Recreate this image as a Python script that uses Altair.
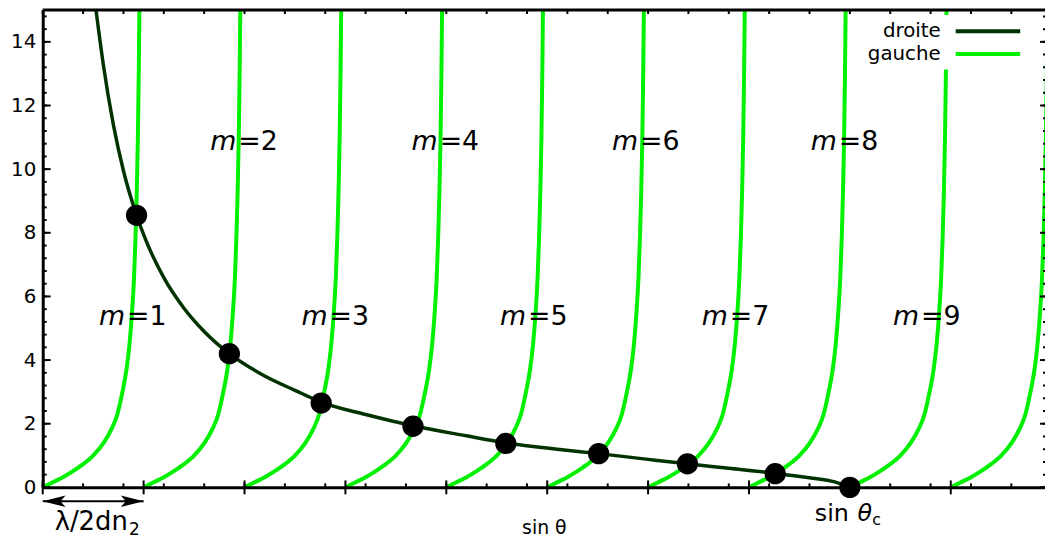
import altair as alt
import pandas as pd

W, H = 1010, 481
XMAX = 9.934
YMAX = 15

GREEN = "#00f000"
DARK = "#003300"
FONT = "DejaVu Sans"

# ---- data (x in units of lambda/2dn2) ----
# shape of one "gauche" branch: offset from the branch start, value
gauche_dx = [0, 0.1, 0.2, 0.3, 0.4, 0.5, 0.6, 0.68, 0.74, 0.79, 0.83, 0.86,
             0.885, 0.905, 0.92, 0.932, 0.943, 0.952, 0.958]
gauche_y = [0, 0.16, 0.32, 0.51, 0.73, 1.0, 1.38, 1.82, 2.3, 3.0, 3.7, 4.5,
            5.5, 6.6, 7.9, 9.3, 11.0, 13.1, 15.0]
gauche_start = [0, 1, 2, 3, 4, 5, 6, 7, 8, 9]

droite_x = [0.528, 0.6, 0.7, 0.8, 0.93, 1.0, 1.2, 1.4, 1.6, 1.85, 2.2, 2.5,
            2.76, 3.2, 3.68, 4.2, 4.59, 5.1, 5.51, 6.0, 6.39, 6.8, 7.26,
            7.6, 7.85, 8.0]
droite_y = [15.0, 13.3, 11.4, 9.95, 8.55, 7.94, 6.59, 5.63, 4.90, 4.2, 3.5,
            3.05, 2.68, 2.29, 1.93, 1.62, 1.40, 1.20, 1.06, 0.88, 0.74, 0.60,
            0.44, 0.30, 0.17, 0.0]

dot_x = [0.93, 1.85, 2.76, 3.67, 4.59, 5.51, 6.39, 7.26, 8.0]
dot_y = [8.55, 4.2, 2.65, 1.92, 1.38, 1.06, 0.74, 0.43, 0.0]

m_num = ["1", "2", "3", "4", "5", "6", "7", "8", "9"]
m_x = [0.826, 1.928, 2.833, 3.924, 4.80, 5.91, 6.80, 7.88, 8.695]
m_y = [5.35, 10.86, 5.35, 10.86, 5.35, 10.86, 5.35, 10.86, 5.35]

y_major = [0, 2, 4, 6, 8, 10, 12, 14]
y_minor = [round(0.4 * i, 1) for i in range(38)]
x_major = [0, 1, 2, 3, 4, 5, 6, 7, 8, 9]
x_minor = [round(0.4 * i, 1) for i in range(25)]

arrow_from = [0]
arrow_to = [1]

# ---- tables ----
gauche_df = pd.DataFrame(
    [{"branch": s, "x": s + dx, "y": v} for s in gauche_start
     for dx, v in zip(gauche_dx, gauche_y)]
)
droite_df = pd.DataFrame({"x": droite_x, "y": droite_y})
dots_df = pd.DataFrame({"x": dot_x, "y": dot_y})
m_df = pd.DataFrame({"x": m_x, "y": m_y, "eq": ["=" + n for n in m_num]})
one = pd.DataFrame({"a": [0]})

xs = alt.Scale(domain=[0, XMAX], nice=False, zero=False)
ys = alt.Scale(domain=[0, YMAX], nice=False, zero=False)
x_axis = alt.Axis(title="sin θ", labels=False, ticks=False, grid=False,
                  domainWidth=3, domainColor="black", titleFont=FONT,
                  titleFontSize=19, titleFontWeight="normal",
                  titlePadding=31, titleColor="black", zindex=1)
y_axis = alt.Axis(title=None, values=y_major, ticks=False, grid=False,
                  domainWidth=3, domainColor="black", labelFont=FONT,
                  labelFontSize=20, labelPadding=7, labelColor="black",
                  zindex=1)
X = alt.X("x:Q", scale=xs, axis=x_axis)
Y = alt.Y("y:Q", scale=ys, axis=y_axis)

gauche = alt.Chart(gauche_df).mark_line(
    color=GREEN, strokeWidth=4, clip=True, interpolate="monotone"
).encode(x=X, y=Y, detail="branch:N")

droite = alt.Chart(droite_df).mark_line(
    color=DARK, strokeWidth=3.5, clip=True, interpolate="monotone"
).encode(x=X, y=Y)

dots = alt.Chart(dots_df).mark_circle(size=460, color="black", opacity=1).encode(x=X, y=Y)

m_left = alt.Chart(m_df).mark_text(
    text="m", font=FONT, fontSize=27, fontStyle="italic", align="right",
    baseline="middle", dx=-1, color="black"
).encode(x=X, y=Y)
m_right = alt.Chart(m_df).mark_text(
    font=FONT, fontSize=27, align="left", baseline="middle", dx=1, color="black"
).encode(x=X, y=Y, text="eq:N")

# ticks (gnuplot style, inward)
def rules(values, field, a, b, width=2):
    df = pd.DataFrame({field: values})
    if field == "y":
        return alt.Chart(df).mark_rule(color="black", strokeWidth=width).encode(
            y=Y, x=alt.value(a), x2=alt.value(b))
    return alt.Chart(df).mark_rule(color="black", strokeWidth=width).encode(
        x=X, y=alt.value(a), y2=alt.value(b))

ticks = [
    rules(y_major, "y", 0, 8),
    rules(y_minor, "y", 0, 4),
    rules(y_major, "y", W - 5, W),
    rules(y_minor, "y", W - 2, W),
    rules(x_minor, "x", H - 4, H),
    rules(x_minor, "x", 0, 4),
    rules(x_major, "x", H - 7, H + 7),
]

top_border = alt.Chart(one).mark_rule(color="black", strokeWidth=3).encode(
    x=alt.value(0), x2=alt.value(W), y=alt.value(0))

# legend (gnuplot key, top right, opaque)
leg_box = alt.Chart(one).mark_rect(color="white").encode(
    x=alt.value(850), x2=alt.value(1000), y=alt.value(5), y2=alt.value(60))
leg_t1 = alt.Chart(one).mark_text(text="droite", font=FONT, fontSize=20, align="right",
                                  baseline="middle", color="black").encode(
    x=alt.value(905), y=alt.value(21))
leg_t2 = alt.Chart(one).mark_text(text="gauche", font=FONT, fontSize=20, align="right",
                                  baseline="middle", color="black").encode(
    x=alt.value(905), y=alt.value(44))
leg_l1 = alt.Chart(one).mark_rule(color=DARK, strokeWidth=4).encode(
    x=alt.value(920), x2=alt.value(985), y=alt.value(21.3))
leg_l2 = alt.Chart(one).mark_rule(color=GREEN, strokeWidth=4).encode(
    x=alt.value(920), x2=alt.value(985), y=alt.value(44.3))

# double arrow lambda/2dn2
arrow_df = pd.DataFrame({"x": arrow_from, "x_end": arrow_to})
arrow_line = alt.Chart(arrow_df).mark_rule(color="black", strokeWidth=2).encode(
    x=X, x2="x_end:Q", y=alt.value(H + 14))
head_l = alt.Chart(pd.DataFrame({"x": arrow_from})).mark_point(
    shape="M-1,0L1,-0.5L0.55,0L1,0.5Z", filled=True, size=529, color="black",
    opacity=1, xOffset=11.5).encode(x=X, y=alt.value(H + 14))
head_r = alt.Chart(pd.DataFrame({"x": arrow_to})).mark_point(
    shape="M1,0L-1,-0.5L-0.55,0L-1,0.5Z", filled=True, size=529, color="black",
    opacity=1, xOffset=-11.5).encode(x=X, y=alt.value(H + 14))

lam = alt.Chart(one).mark_text(text="λ/2dn", font=FONT, fontSize=26, align="left",
                               baseline="alphabetic", color="black").encode(
    x=alt.value(12), y=alt.value(524))
lam_sub = alt.Chart(one).mark_text(text="2", font=FONT, fontSize=17, align="left",
                                   baseline="alphabetic", color="black").encode(
    x=alt.value(87), y=alt.value(529))

sin_c = alt.Chart(one).mark_text(text="sin", font=FONT, fontSize=24, align="left",
                                 baseline="alphabetic", color="black").encode(
    x=alt.value(778), y=alt.value(515))
theta_c = alt.Chart(one).mark_text(text="θ", font=FONT, fontSize=24, fontStyle="italic",
                                   align="left", baseline="alphabetic", color="black").encode(
    x=alt.value(821), y=alt.value(515))
c_sub = alt.Chart(one).mark_text(text="c", font=FONT, fontSize=16, align="left",
                                 baseline="alphabetic", color="black").encode(
    x=alt.value(836), y=alt.value(519))

chart = alt.layer(
    gauche, droite, dots,
    leg_box, leg_t1, leg_t2, leg_l1, leg_l2,
    *ticks, top_border,
    m_left, m_right,
    arrow_line, head_l, head_r, lam, lam_sub, sin_c, theta_c, c_sub,
).properties(
    width=W, height=H,
    autosize=alt.AutoSizeParams(type="none"),
    padding={"left": 35, "top": 0, "right": 0, "bottom": 53},
).configure_view(stroke=None)

chart.save("out.html", embed_options={"renderer": "svg", "actions": False})
